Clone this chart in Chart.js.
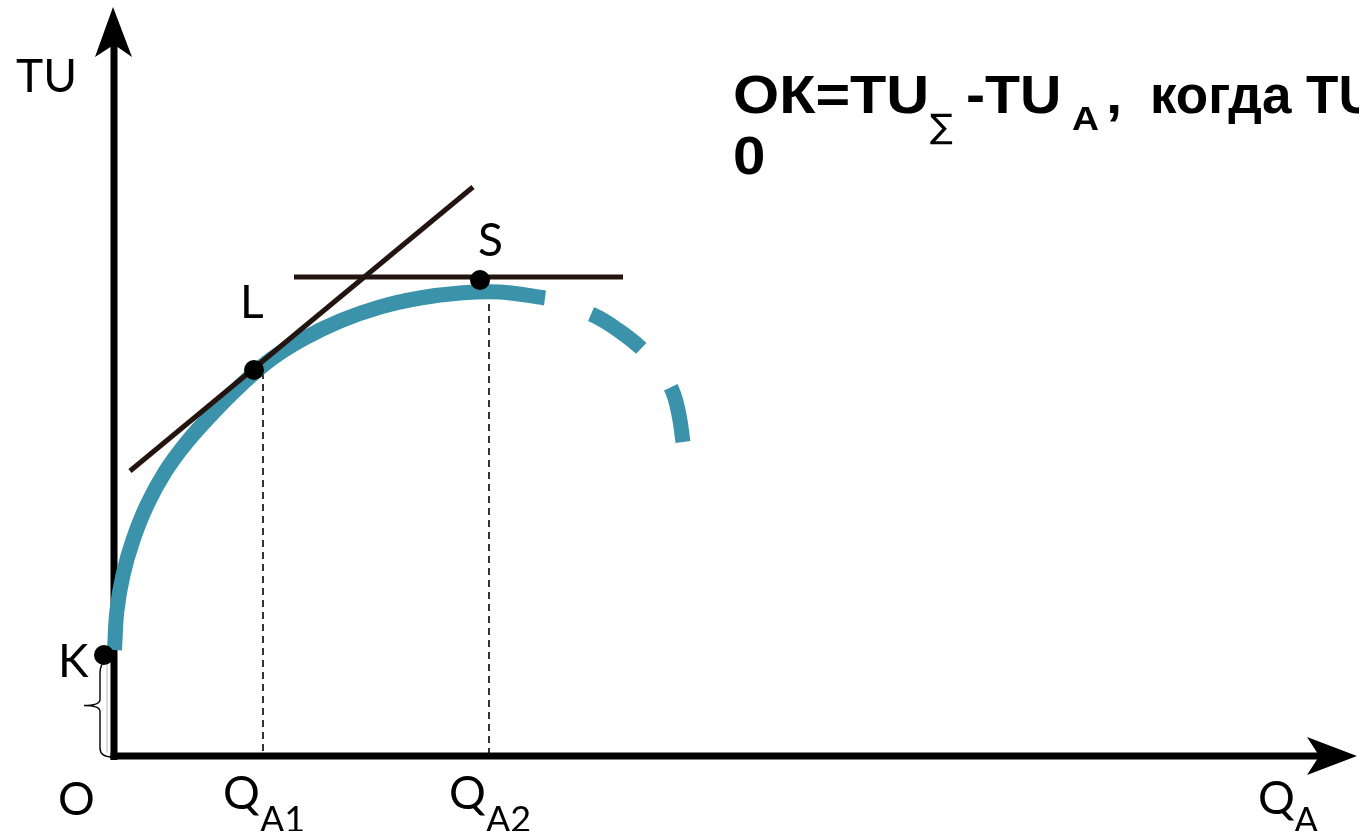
<!DOCTYPE html>
<html lang="ru">
<head>
<meta charset="UTF-8" />
<title>TU и точка насыщения</title>
<script src="https://cdn.jsdelivr.net/npm/chart.js"></script>
<style>
  html, body { margin: 0; padding: 0; background: #fff; overflow: hidden; }
  #tuChart { display: block; }
</style>
</head>
<body>
<canvas id="tuChart" width="1359" height="831"></canvas>
<script>
    // Кривая общей полезности TU (сплошная часть)
    const curveQ  = [0.05, 0.3, 0.9, 1.9, 3.3, 5.1, 7.3, 9.9, 12.6, 15.6, 18.9, 22.6, 26.6, 30.6, 34.6, 38.6, 43.1];
    const curveTU = [10.6, 14.6, 18.1, 21.6, 25.1, 28.4, 31.4, 34.3, 37.0, 39.6, 41.7, 43.5, 44.9, 45.8, 46.3, 46.4, 45.8];

    // Продолжение кривой после точки насыщения (пунктир)
    const tailQ  = [43.1, 47.9, 50.4, 52.9, 54.4, 55.8, 56.5, 56.9];
    const tailTU = [45.8, 44.1, 42.6, 40.6, 38.8, 36.6, 34.1, 31.4];

    // Касательные в точках L и S
    const tangentLQ  = [1.6, 35.9];
    const tangentLTU = [28.5, 56.9];
    const tangentSQ  = [18.0, 50.9];
    const tangentSTU = [47.9, 47.9];

    // Отмеченные точки
    const pointNames = ['K', 'L', 'S'];
    const pointQ     = [-1.0, 14.0, 36.6];
    const pointTU    = [10.1, 38.6, 47.6];

    // Засечки на оси Q и высота пунктирных перпендикуляров
    const tickLabels = ['A1', 'A2'];
    const tickQ      = [14.9, 37.5];
    const tickTU     = [38.4, 46.4];

    const BLUE = 'rgb(58, 147, 170)';
    const BROWN = '#24140f';
    const LABEL_FONT = '"Lato", "Open Sans", sans-serif';
    const BIG_FONT = 'bold 53px "Liberation Sans", Arial, sans-serif';

    const toXY = (xs, ys) => xs.map((x, i) => ({ x: x, y: ys[i] }));

    const dropLines = tickQ.map((q, i) => ({
        data: [{ x: q, y: tickTU[i] }, { x: q, y: 0 }],
        showLine: true,
        borderColor: '#000',
        borderWidth: 1.6,
        borderDash: [7, 5],
        pointRadius: 0,
        order: 4
    }));

    // широкий жирный текст формулы
    function wideText(ctx, text, x, y, font, stretch) {
        ctx.save();
        ctx.font = font;
        ctx.translate(x, y);
        ctx.scale(stretch, 1);
        ctx.fillText(text, 0, 0);
        ctx.restore();
    }

    // оси, стрелки, фигурная скобка OK и все подписи
    const sketch = {
        id: 'sketch',
        beforeDatasetsDraw(chart) {
            const ctx = chart.ctx;
            const sx = chart.scales.x, sy = chart.scales.y;
            const ox = sx.getPixelForValue(0), oy = sy.getPixelForValue(0);
            const topY = sy.getPixelForValue(74.9);
            const rightX = sx.getPixelForValue(124.3);
            ctx.save();
            ctx.fillStyle = '#000';

            // вертикальная ось TU
            ctx.fillRect(ox - 3.5, topY + 40, 7, oy - topY - 36);
            ctx.beginPath();
            ctx.moveTo(ox - 1, topY);
            ctx.lineTo(ox + 18, topY + 50);
            ctx.lineTo(ox + 3.5, topY + 40);
            ctx.lineTo(ox - 3.5, topY + 40);
            ctx.lineTo(ox - 19, topY + 50);
            ctx.closePath();
            ctx.fill();

            // горизонтальная ось Q
            ctx.fillRect(ox - 3.5, oy - 3.5, rightX - ox - 36, 7);
            ctx.beginPath();
            ctx.moveTo(rightX, oy);
            ctx.lineTo(rightX - 50, oy - 19);
            ctx.lineTo(rightX - 40, oy - 3.5);
            ctx.lineTo(rightX - 40, oy + 3.5);
            ctx.lineTo(rightX - 50, oy + 19);
            ctx.closePath();
            ctx.fill();

            // фигурная скобка от O до K
            const kY = sy.getPixelForValue(pointTU[0]);
            const bx = ox - 14;
            const mid = (kY + oy) / 2;
            ctx.strokeStyle = '#000';
            ctx.lineWidth = 1.4;
            ctx.beginPath();
            ctx.moveTo(bx + 5, kY + 6);
            ctx.quadraticCurveTo(bx, kY + 10, bx, kY + 18);
            ctx.lineTo(bx, mid - 6);
            ctx.quadraticCurveTo(bx, mid, bx - 16, mid);
            ctx.quadraticCurveTo(bx, mid, bx, mid + 6);
            ctx.lineTo(bx, oy - 8);
            ctx.quadraticCurveTo(bx, oy + 1, bx + 12, oy + 1);
            ctx.stroke();
            ctx.strokeStyle = '#bbb';
            ctx.lineWidth = 1;
            ctx.beginPath();
            ctx.moveTo(bx + 7, kY + 8);
            ctx.lineTo(bx + 7, oy - 3);
            ctx.stroke();
            ctx.restore();
        },
        afterDatasetsDraw(chart) {
            const ctx = chart.ctx;
            const sx = chart.scales.x, sy = chart.scales.y;
            const ox = sx.getPixelForValue(0), oy = sy.getPixelForValue(0);
            ctx.save();
            ctx.fillStyle = '#000';
            ctx.textBaseline = 'alphabetic';
            ctx.font = '46px ' + LABEL_FONT;

            ctx.fillText('TU', ox - 98, 92);
            ctx.fillText('O', ox - 56, oy + 59);

            // подписи точек K, L, S
            const px = pointQ.map(q => sx.getPixelForValue(q));
            const py = pointTU.map(t => sy.getPixelForValue(t));
            ctx.fillText(pointNames[0], px[0] - 46, py[0] + 22);
            ctx.fillText(pointNames[1], px[1] - 14, py[1] - 52);
            ctx.fillText(pointNames[2], px[2] - 2, py[2] - 24);

            // Q_A1, Q_A2 под засечками
            tickQ.forEach((q, i) => {
                const x = sx.getPixelForValue(q) - 40;
                ctx.font = '46px ' + LABEL_FONT;
                ctx.fillText('Q', x, oy + 53);
                ctx.font = '36px ' + LABEL_FONT;
                ctx.fillText(tickLabels[i], x + 37, oy + 76);
            });

            // подпись оси Q_A
            const qx = sx.getPixelForValue(124.3) - 99;
            ctx.font = '46px ' + LABEL_FONT;
            ctx.fillText('Q', qx, oy + 58);
            ctx.font = '36px ' + LABEL_FONT;
            ctx.fillText('A', qx + 36, oy + 77);

            // формула в правом верхнем углу
            wideText(ctx, 'ОК=TU', 733, 113, BIG_FONT, 1.12);
            ctx.font = '34px "DejaVu Sans", sans-serif';
            ctx.fillText('∑', 930, 138);
            wideText(ctx, '-TU', 966, 113, BIG_FONT, 1.08);
            wideText(ctx, 'A', 1072, 130, 'bold 34px "Liberation Sans", Arial, sans-serif', 1.1);
            wideText(ctx, ',', 1106, 113, BIG_FONT, 1.1);
            wideText(ctx, 'когда TU', 1150, 113, BIG_FONT, 1.0);
            wideText(ctx, '0', 733, 174, BIG_FONT, 1.1);
            ctx.restore();
        }
    };

    new Chart(document.getElementById('tuChart').getContext('2d'), {
        type: 'scatter',
        data: {
            datasets: [
                {
                    data: toXY(pointQ, pointTU),
                    backgroundColor: '#000',
                    borderWidth: 0,
                    pointRadius: 10,
                    order: 0
                },
                {
                    data: toXY(tangentLQ, tangentLTU),
                    showLine: true,
                    borderColor: BROWN,
                    borderWidth: 5,
                    pointRadius: 0,
                    order: 1
                },
                {
                    data: toXY(tangentSQ, tangentSTU),
                    showLine: true,
                    borderColor: BROWN,
                    borderWidth: 5,
                    pointRadius: 0,
                    order: 1
                },
                {
                    data: toXY(curveQ, curveTU),
                    showLine: true,
                    borderColor: BLUE,
                    borderWidth: 15,
                    tension: 0.4,
                    pointRadius: 0,
                    order: 2
                },
                {
                    data: toXY(tailQ, tailTU),
                    showLine: true,
                    borderColor: BLUE,
                    borderWidth: 15,
                    borderDash: [61, 49],
                    borderDashOffset: 61,
                    tension: 0.4,
                    pointRadius: 0,
                    order: 3
                },
                ...dropLines
            ]
        },
        options: {
            responsive: false,
            animation: false,
            devicePixelRatio: 1,
            layout: { padding: 0, autoPadding: false },
            plugins: {
                legend: { display: false },
                tooltip: { enabled: false }
            },
            scales: {
                x: { type: 'linear', display: false, min: -11.4, max: 124.5 },
                y: { type: 'linear', display: false, min: -7.5, max: 75.6 }
            }
        },
        plugins: [sketch]
    });
</script>
</body>
</html>
